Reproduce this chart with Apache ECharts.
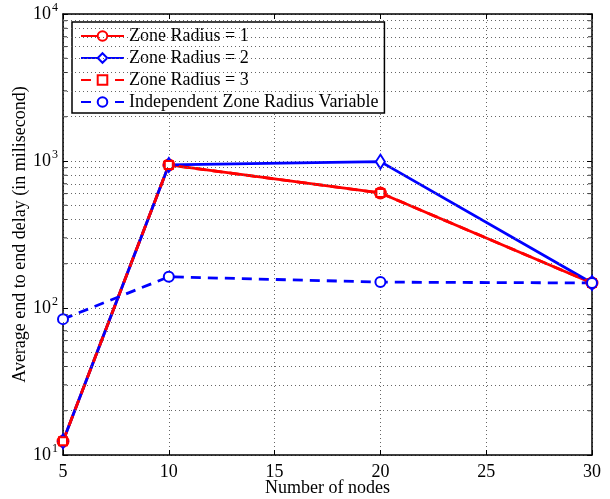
<!DOCTYPE html>
<html><head><meta charset="utf-8">
<script src="https://cdn.jsdelivr.net/npm/echarts@6/dist/echarts.min.js"></script>
<style>html,body{margin:0;padding:0;background:#fff}#c{width:610px;height:499px}</style>
</head><body><div id="c"></div>
<script>
const nodes = [5, 10, 20, 30];
const zone1 = [12.4, 940, 606, 148];
const zone2 = [12.4, 940, 990, 148];
const zone3 = [12.4, 940, 606, 148];
const independent = [84, 163, 150, 148];
const seriesNames = ['Zone Radius = 1', 'Zone Radius = 2', 'Zone Radius = 3', 'Independent Zone Radius Variable'];
const yMinor = [20,30,40,50,60,70,80,90,200,300,400,500,600,700,800,900,2000,3000,4000,5000,6000,7000,8000,9000];
const xTitle = 'Number of nodes';
const yTitle = 'Average end to end delay (in milisecond)';

const FONT = "'Liberation Serif','Times New Roman',serif";
const FS = 18;
const pair = vals => nodes.map((x, i) => [x, vals[i]]);
const dotted = {type: [1, 3], color: '#666', width: 1};

const chart = echarts.init(document.getElementById('c'));
chart.setOption({
  animation: false,
  backgroundColor: '#fff',
  grid: {left: 63, right: 18, top: 14, bottom: 44, containLabel: false, outerBoundsMode: 'none'},
  legend: {
    data: seriesNames,
    orient: 'vertical',
    left: 72, top: 22,
    padding: [5, 6, 2, 8],
    itemWidth: 43, itemHeight: 12, itemGap: 4,
    borderColor: '#000', borderWidth: 1.5, backgroundColor: '#fff',
    textStyle: {fontFamily: FONT, fontSize: FS, color: '#000'}
  },
  xAxis: [{
    type: 'value', min: 5, max: 30, interval: 5,
    name: xTitle, nameLocation: 'middle', nameGap: 24, nameMoveOverlap: false,
    nameTextStyle: {fontFamily: FONT, fontSize: FS, color: '#000'},
    axisLine: {lineStyle: {color: '#000', width: 1.5}},
    axisTick: {inside: true, length: 5, lineStyle: {color: '#000'}},
    axisLabel: {fontFamily: FONT, fontSize: FS, color: '#000', margin: 8},
    splitLine: {show: true, lineStyle: dotted}
  }, {
    type: 'value', min: 5, max: 30, interval: 5, position: 'top',
    axisLine: {lineStyle: {color: '#000', width: 1.5}},
    axisTick: {inside: true, length: 5, lineStyle: {color: '#000'}},
    axisLabel: {show: false}, splitLine: {show: false}
  }],
  yAxis: [{
    type: 'log', logBase: 10, min: 10, max: 10000,
    name: yTitle, nameLocation: 'middle', nameGap: 34, nameMoveOverlap: false,
    nameTextStyle: {fontFamily: FONT, fontSize: FS, color: '#000'},
    axisLine: {lineStyle: {color: '#000', width: 1.5}},
    axisTick: {inside: true, length: 5, lineStyle: {color: '#000'}},
    axisLabel: {
      margin: 5,
      formatter: v => '{b|10}{s|' + Math.round(Math.log10(v)) + '}',
      rich: {
        b: {fontFamily: FONT, fontSize: FS, color: '#000'},
        s: {fontFamily: FONT, fontSize: 12, color: '#000', padding: [0, 0, 12, 1]}
      }
    },
    splitLine: {show: true, lineStyle: dotted}
  }, {
    type: 'log', logBase: 10, min: 10, max: 10000, position: 'right',
    axisLine: {lineStyle: {color: '#000', width: 1.5}},
    axisTick: {inside: true, length: 5, lineStyle: {color: '#000'}},
    axisLabel: {show: false}, splitLine: {show: false}
  }],
  series: [
    {
      type: 'line', data: [], silent: true,
      markLine: {silent: true, symbol: 'none', label: {show: false}, lineStyle: dotted,
        data: yMinor.map(v => ({yAxis: v}))}
    },
    {
      type: 'scatter', silent: true, symbol: 'rect', symbolSize: [4, 1], symbolOffset: [2, 0],
      itemStyle: {color: '#000'}, data: yMinor.map(v => [5, v])
    },
    {
      type: 'scatter', silent: true, symbol: 'rect', symbolSize: [4, 1], symbolOffset: [-2, 0],
      itemStyle: {color: '#000'}, data: yMinor.map(v => [30, v])
    },
    {
      name: seriesNames[0], type: 'line', data: pair(zone1),
      symbol: 'emptyCircle', symbolSize: 11,
      lineStyle: {color: '#ff0000', width: 2.8},
      itemStyle: {color: '#ff0000', borderWidth: 2.5}
    },
    {
      name: seriesNames[1], type: 'line', data: pair(zone2),
      symbol: 'emptyDiamond', symbolSize: [9, 14],
      lineStyle: {color: '#0000ff', width: 2.8},
      itemStyle: {color: '#0000ff', borderWidth: 2.5}
    },
    {
      name: seriesNames[2], type: 'line', data: pair(zone3),
      symbol: 'emptyRect', symbolSize: 8,
      lineStyle: {color: '#ff0000', width: 2.8, type: [10, 7]},
      itemStyle: {color: '#ff0000', borderWidth: 2.5}
    },
    {
      name: seriesNames[3], type: 'line', data: pair(independent),
      symbol: 'emptyCircle', symbolSize: 10,
      lineStyle: {color: '#0000ff', width: 2.8, type: [10, 7]},
      itemStyle: {color: '#0000ff', borderWidth: 2.5}
    }
  ]
});
</script>
</body></html>
